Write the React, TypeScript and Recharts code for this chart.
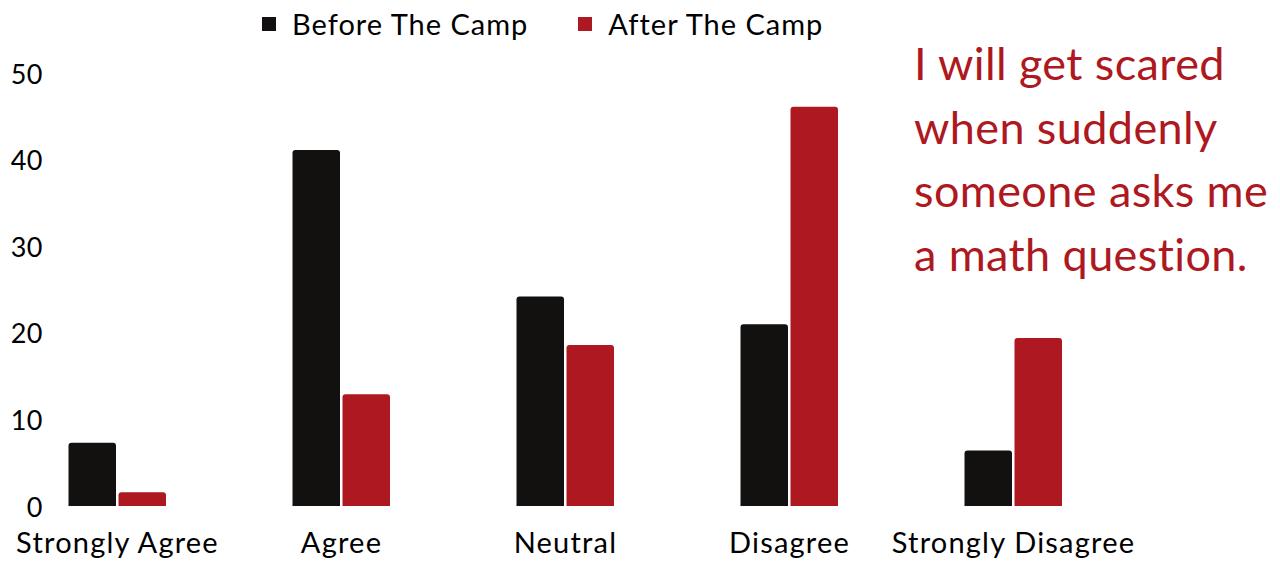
import { BarChart, Bar, XAxis, YAxis } from 'recharts';

const categories = ['Strongly Agree', 'Agree', 'Neutral', 'Disagree', 'Strongly Disagree'];
const beforeCamp = [7.3, 41.1, 24.2, 21.0, 6.4];
const afterCamp = [1.6, 12.9, 18.6, 46.1, 19.4];
const yTicks = [0, 10, 20, 30, 40, 50];
const titleLines = ['I will get scared', 'when suddenly', 'someone asks me', 'a math question.'];

const BLACK = '#121110';
const RED = '#ae1820';
const FONT = 'Lato, "Open Sans", sans-serif';

const data = categories.map((name, i) => ({ name, before: beforeCamp[i], after: afterCamp[i] }));

const YTick = ({ y, payload }: any) => (
  <text x={43} y={y} textAnchor="end" dominantBaseline="central" fontSize={27} fill="#000" fontFamily={FONT} letterSpacing={0.5}>
    {payload.value}
  </text>
);

const XTick = ({ x, payload }: any) => (
  <text x={x} y={541} textAnchor="middle" dominantBaseline="central" fontSize={29} fill="#000" fontFamily={FONT} letterSpacing={1.2}>
    {payload.value}
  </text>
);

export default function App() {
  return (
    <div style={{ position: 'fixed', left: 0, top: 0, width: 1280, height: 563, background: '#fff', overflow: 'hidden' }}>
      <BarChart
        width={1280}
        height={563}
        data={data}
        margin={{ top: 73, right: 154.5, bottom: 56, left: 4.5 }}
        barSize={47.5}
        barGap={2.5}
      >
        <XAxis dataKey="name" axisLine={false} tickLine={false} tick={<XTick />} interval={0} height={1} />
        <YAxis domain={[0, 50]} ticks={yTicks} axisLine={false} tickLine={false} tick={<YTick />} width={1} />
        <Bar dataKey="before" fill={BLACK} radius={[3, 3, 0, 0]} isAnimationActive={false} />
        <Bar dataKey="after" fill={RED} radius={[3, 3, 0, 0]} isAnimationActive={false} />
      </BarChart>
      {/* legend */}
      <div style={{ position: 'absolute', left: 262, top: 6, display: 'flex', alignItems: 'center', fontFamily: FONT, fontSize: 29, letterSpacing: 1, color: '#000', whiteSpace: 'nowrap' }}>
        <span style={{ width: 14, height: 14, background: BLACK, display: 'inline-block', marginRight: 16 }} />
        <span style={{ marginRight: 50 }}>Before The Camp</span>
        <span style={{ width: 14, height: 14, background: RED, display: 'inline-block', marginRight: 16 }} />
        <span>After The Camp</span>
      </div>
      <div style={{ position: 'absolute', left: 914, top: 32, fontFamily: FONT, fontSize: 45, lineHeight: '63.7px', letterSpacing: 0.4, color: RED, whiteSpace: 'nowrap' }}>
        {titleLines.map((l) => (
          <div key={l}>{l}</div>
        ))}
      </div>
    </div>
  );
}
